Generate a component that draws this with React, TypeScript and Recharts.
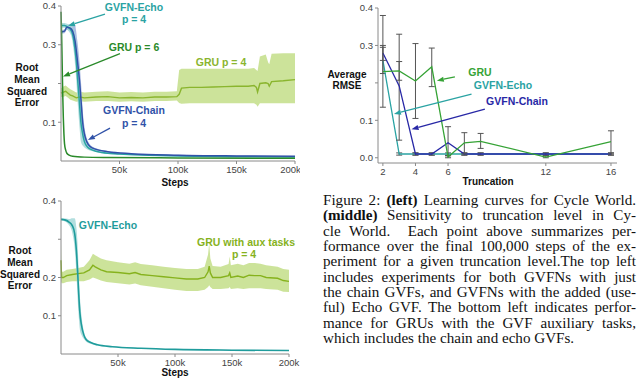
import React from "react";
import {
  Area,
  ComposedChart,
  ErrorBar,
  Line,
  ReferenceLine,
  XAxis,
  YAxis
} from "recharts";

// ---- top left: learning curves (steps in thousands) ----
const echoTopK = [0, 3, 6, 9, 11, 13, 14.5, 16, 17, 18.5, 20, 23, 27, 35, 50, 75, 100, 150, 200];
const echoTopRmse = [0.35, 0.35, 0.345, 0.335, 0.31, 0.26, 0.2, 0.14, 0.1, 0.07, 0.05, 0.035, 0.028, 0.022, 0.018, 0.015, 0.013, 0.011, 0.01];
const echoTopSpread = [0.006, 0.006, 0.008, 0.015, 0.03, 0.05, 0.06, 0.06, 0.05, 0.03, 0.015, 0.006, 0.003, 0.002, 0.002, 0.001, 0.001, 0.001, 0.001];

const chainTopK = [0, 3, 5, 8, 10, 12, 14, 16, 17.5, 18.5, 20, 22, 25, 30, 40, 60, 100, 150, 200];
const chainTopRmse = [0.333, 0.335, 0.345, 0.343, 0.335, 0.31, 0.26, 0.2, 0.14, 0.1, 0.07, 0.05, 0.037, 0.03, 0.024, 0.019, 0.015, 0.013, 0.012];
const chainTopSpread = [0.004, 0.005, 0.006, 0.01, 0.02, 0.04, 0.05, 0.05, 0.045, 0.035, 0.02, 0.01, 0.005, 0.003, 0.002, 0.001, 0.001, 0.001, 0.001];

const gru6K = [0, 0.5, 1, 1.5, 2, 2.5, 3, 4, 5, 7, 10, 20, 40, 100, 200];
const gru6Rmse = [0.385, 0.33, 0.25, 0.17, 0.11, 0.07, 0.045, 0.028, 0.02, 0.015, 0.012, 0.01, 0.009, 0.008, 0.007];

const gru4K = [0, 2, 4, 6, 8, 10, 13, 16, 20, 30, 40, 50, 60, 70, 80, 90, 99, 101, 103, 110, 120, 130, 140, 150, 160, 165, 167, 168, 170, 175, 177, 178, 180, 190, 200];
const gru4Rmse = [0.175, 0.178, 0.18, 0.175, 0.17, 0.168, 0.163, 0.165, 0.163, 0.165, 0.166, 0.163, 0.164, 0.163, 0.165, 0.165, 0.166, 0.172, 0.188, 0.19, 0.19, 0.191, 0.192, 0.193, 0.193, 0.195, 0.19, 0.178, 0.2, 0.202, 0.2, 0.193, 0.205, 0.207, 0.21];
const gru4Lo = [0.165, 0.166, 0.168, 0.163, 0.158, 0.156, 0.153, 0.154, 0.153, 0.155, 0.155, 0.153, 0.154, 0.153, 0.155, 0.155, 0.156, 0.15, 0.148, 0.149, 0.149, 0.149, 0.149, 0.149, 0.149, 0.149, 0.145, 0.14, 0.149, 0.149, 0.149, 0.149, 0.149, 0.149, 0.149];
const gru4Hi = [0.188, 0.192, 0.195, 0.19, 0.185, 0.182, 0.177, 0.179, 0.177, 0.179, 0.18, 0.177, 0.178, 0.177, 0.179, 0.179, 0.18, 0.235, 0.238, 0.238, 0.238, 0.238, 0.238, 0.238, 0.238, 0.24, 0.235, 0.232, 0.27, 0.275, 0.255, 0.25, 0.277, 0.278, 0.278];

// ---- bottom left: GRU with aux tasks ----
const echoBotK = [0, 4, 7, 10, 12, 13.5, 14.5, 15.5, 16.5, 18, 20, 22, 26, 32, 45, 70, 100, 150, 200];
const echoBotRmse = [0.352, 0.35, 0.345, 0.335, 0.315, 0.27, 0.22, 0.16, 0.11, 0.075, 0.05, 0.038, 0.03, 0.024, 0.019, 0.015, 0.012, 0.01, 0.009];
const echoBotSpread = [0.003, 0.004, 0.008, 0.02, 0.04, 0.06, 0.07, 0.06, 0.045, 0.025, 0.01, 0.005, 0.003, 0.002, 0.001, 0.001, 0.001, 0.001, 0.001];

const auxK = [0, 0.5, 2, 5, 10, 15, 20, 25, 28, 30, 35, 40, 50, 60, 65, 70, 80, 90, 100, 110, 120, 126, 129, 130, 131, 133, 140, 147, 148, 149, 155, 160, 165, 170, 175, 180, 190, 195, 200];
const auxRmse = [0.245, 0.2, 0.2, 0.205, 0.208, 0.21, 0.212, 0.22, 0.232, 0.228, 0.22, 0.215, 0.213, 0.21, 0.213, 0.208, 0.205, 0.202, 0.199, 0.196, 0.196, 0.2, 0.215, 0.23, 0.212, 0.2, 0.2, 0.205, 0.212, 0.2, 0.204, 0.2, 0.206, 0.205, 0.205, 0.2, 0.198, 0.192, 0.19];
const auxLo = [0.19, 0.185, 0.185, 0.188, 0.19, 0.19, 0.19, 0.195, 0.2, 0.198, 0.192, 0.188, 0.185, 0.182, 0.184, 0.18, 0.176, 0.172, 0.168, 0.165, 0.165, 0.168, 0.175, 0.18, 0.175, 0.17, 0.17, 0.172, 0.175, 0.17, 0.172, 0.17, 0.172, 0.172, 0.172, 0.17, 0.168, 0.163, 0.162];
const auxHi = [0.29, 0.215, 0.215, 0.22, 0.222, 0.225, 0.228, 0.245, 0.262, 0.258, 0.25, 0.245, 0.24, 0.236, 0.24, 0.235, 0.232, 0.228, 0.225, 0.222, 0.222, 0.228, 0.26, 0.29, 0.25, 0.23, 0.228, 0.235, 0.255, 0.232, 0.236, 0.232, 0.238, 0.238, 0.236, 0.232, 0.228, 0.222, 0.22];

// ---- middle: sensitivity to truncation ----
const truncation = [2, 3, 4, 5, 6, 7, 8, 12, 16];
const gruAvg = [0.23, 0.232, 0.205, 0.243, 0.002, 0.04, 0.044, 0.002, 0.043];
const gruErrLo = [0.095, 0.025, 0.1, 0.053, 0.002, 0.03, 0.019, 0.002, 0.033];
const gruErrHi = [0.15, 0.025, 0.1, 0.05, 0.004, 0.027, 0.021, 0.004, 0.029];
const chainAvg = [0.28, 0.192, 0.01, 0.01, 0.04, 0.01, 0.01, 0.01, 0.01];
const chainErrLo = [0.02, 0.145, 0.003, 0.003, 0.035, 0.003, 0.003, 0.003, 0.003];
const chainErrHi = [0.02, 0.138, 0.003, 0.003, 0.043, 0.003, 0.003, 0.003, 0.003];
const echoAvg = [0.26, 0.01, 0.01, 0.01, 0.01, 0.01, 0.01, 0.01, 0.01];
const echoErr = [0.035, 0.003, 0.003, 0.003, 0.003, 0.003, 0.003, 0.003, 0.003];

const stepTicks = [50, 100, 150, 200];
const rmseTicks = [0.1, 0.2, 0.3, 0.4];
const truncTicks = [2, 4, 6, 12, 16];
const avgTicks = [0, 0.1, 0.2, 0.3, 0.4];

const captionLines = [
  ["Figure 2: ", "(left)", " Learning curves for Cycle World."],
  ["", "(middle)", " Sensitivity to truncation level in Cy-"],
  ["cle World.\u00a0 Each point above summarizes per-"],
  ["formance over the final 100,000 steps of the ex-"],
  ["periment for a given truncation level.The top left"],
  ["includes experiments for both GVFNs with just"],
  ["the chain GVFs, and GVFNs with the added (use-"],
  ["ful) Echo GVF. The bottom left indicates perfor-"],
  ["mance for GRUs with the GVF auxiliary tasks,"],
  ["which includes the chain and echo GVFs."]
];

const TEAL = "#2aa3a3";
const TEAL_BAND = "#9fd6d6";
const BLUE = "#3052a8";
const BLUE_BAND = "#98aadb";
const DARK_GREEN = "#2a8a2a";
const LIME = "#8ab52e";
const LIME_BAND = "#c6e08f";
const AXIS = "#8a8a8a";
const TICK = { fill: "#444", fontSize: 9.5 };

const series = (k: number[], y: number[], spread?: number[]) =>
  k.map((s, i) => ({ s, y: y[i], band: spread ? [y[i] - spread[i], y[i] + spread[i]] : undefined }));

const bandSeries = (k: number[], y: number[], lo: number[], hi: number[]) =>
  k.map((s, i) => ({ s, y: y[i], band: [lo[i], hi[i]] }));

const echoTop = series(echoTopK, echoTopRmse, echoTopSpread);
const chainTop = series(chainTopK, chainTopRmse, chainTopSpread);
const gru6 = series(gru6K, gru6Rmse);
const gru4 = bandSeries(gru4K, gru4Rmse, gru4Lo, gru4Hi);
const echoBot = series(echoBotK, echoBotRmse, echoBotSpread);
const aux = bandSeries(auxK, auxRmse, auxLo, auxHi);

const truncData = truncation.map((t, i) => ({
  t,
  gru: gruAvg[i],
  gruErr: [gruErrLo[i], gruErrHi[i]],
  chain: chainAvg[i],
  chainErr: [chainErrLo[i], chainErrHi[i]],
  echo: echoAvg[i],
  echoErr: echoErr[i]
}));

function arrow(color: string) {
  return (p: any) => {
    const { x1, y1, x2, y2 } = p;
    const a = Math.atan2(y2 - y1, x2 - x1);
    const len = 7;
    const w = 2.6;
    const bx = x2 - len * Math.cos(a);
    const by = y2 - len * Math.sin(a);
    const pts = [
      `${x2},${y2}`,
      `${bx + w * Math.sin(a)},${by - w * Math.cos(a)}`,
      `${bx - w * Math.sin(a)},${by + w * Math.cos(a)}`
    ].join(" ");
    return (
      <g>
        <line x1={x1} y1={y1} x2={bx} y2={by} stroke={color} strokeWidth={1.3} />
        <polygon points={pts} fill={color} />
      </g>
    );
  };
}

function Note({ x, y, color, size = 10.5, children }: any) {
  return (
    <div
      style={{
        position: "absolute",
        left: x,
        top: y,
        transform: "translate(-50%, -50%)",
        color,
        fontSize: size,
        fontWeight: "bold",
        whiteSpace: "nowrap",
        lineHeight: 1,
        textAlign: "center"
      }}
    >
      {children}
    </div>
  );
}

function StackLabel({ x, y, lines, gap = 11.8 }: any) {
  return (
    <>
      {lines.map((l: string, i: number) => (
        <Note key={l} x={x} y={y + i * gap} color="#111" size={10}>
          {l}
        </Note>
      ))}
    </>
  );
}

const hide = (skip: number) => (v: number) => (v === skip ? "" : v.toFixed(1));

export default function App() {
  return (
    <div
      style={{
        position: "absolute",
        left: 0,
        top: 0,
        width: 640,
        height: 380,
        background: "#fff",
        overflow: "hidden",
        fontFamily: '"Liberation Sans", Arial, sans-serif'
      }}
    >
      {/* top left */}
      <div style={{ position: "absolute", left: 0, top: 0 }}>
        <ComposedChart width={300} height={190} margin={{ top: 6, right: 5, bottom: 9, left: 31 }}>
          <XAxis
            dataKey="s"
            type="number"
            domain={[0, 200]}
            ticks={stepTicks}
            tickFormatter={(v) => `${v}k`}
            height={20}
            stroke={AXIS}
            tickSize={3}
            tick={TICK}
            allowDuplicatedCategory={false}
          />
          <YAxis
            type="number"
            domain={[0, 0.4]}
            ticks={rmseTicks}
            tickFormatter={hide(0.2)}
            width={30}
            stroke={AXIS}
            tickSize={3}
            tick={TICK}
          />
          <Area data={gru4} dataKey="band" type="linear" stroke="none" fill={LIME_BAND} fillOpacity={0.9} isAnimationActive={false} />
          <Line data={gru4} dataKey="y" type="linear" stroke={LIME} strokeWidth={1.4} dot={false} isAnimationActive={false} />
          <Area data={chainTop} dataKey="band" type="monotone" stroke="none" fill={BLUE_BAND} fillOpacity={0.8} isAnimationActive={false} />
          <Area data={echoTop} dataKey="band" type="monotone" stroke="none" fill={TEAL_BAND} fillOpacity={0.8} isAnimationActive={false} />
          <Line data={echoTop} dataKey="y" type="monotone" stroke={TEAL} strokeWidth={1.5} dot={false} isAnimationActive={false} />
          <Line data={chainTop} dataKey="y" type="monotone" stroke={BLUE} strokeWidth={1.5} dot={false} isAnimationActive={false} />
          <Line data={gru6} dataKey="y" type="monotone" stroke={DARK_GREEN} strokeWidth={1.5} dot={false} isAnimationActive={false} />
          <ReferenceLine ifOverflow="visible" segment={[{ x: 37.6, y: 0.379 }, { x: 6, y: 0.349 }]} shape={arrow(TEAL)} />
          <ReferenceLine ifOverflow="visible" segment={[{ x: 50.4, y: 0.277 }, { x: 1.7, y: 0.218 }]} shape={arrow(DARK_GREEN)} />
          <ReferenceLine ifOverflow="visible" segment={[{ x: 41.9, y: 0.085 }, { x: 23, y: 0.054 }]} shape={arrow(BLUE)} />
        </ComposedChart>
      </div>
      <Note x={134} y={7} color={TEAL}>GVFN-Echo</Note>
      <Note x={134} y={19} color={TEAL}>p = 4</Note>
      <Note x={134} y={47} color={DARK_GREEN}>GRU p = 6</Note>
      <Note x={221} y={62} color={LIME}>GRU p = 4</Note>
      <Note x={134} y={110} color={BLUE}>GVFN-Chain</Note>
      <Note x={134} y={123} color={BLUE}>p = 4</Note>
      <StackLabel x={27} y={68} lines={["Root", "Mean", "Squared", "Error"]} />
      <Note x={175} y={183} color="#111" size={10}>Steps</Note>

      {/* middle */}
      <div style={{ position: "absolute", left: 320, top: 0 }}>
        <ComposedChart width={320} height={190} data={truncData} margin={{ top: 8, right: 23, bottom: 10, left: 30 }}>
          <XAxis
            dataKey="t"
            type="number"
            domain={[1.7, 16.37]}
            ticks={truncTicks}
            height={17}
            stroke={AXIS}
            tickSize={3}
            tick={TICK}
          />
          <YAxis
            type="number"
            domain={[-0.014, 0.4]}
            ticks={avgTicks}
            tickFormatter={hide(0.2)}
            width={28}
            stroke={AXIS}
            tickSize={3}
            tick={TICK}
            allowDataOverflow
          />
          <Line dataKey="echo" type="linear" stroke={TEAL} strokeWidth={1.3} dot={false} isAnimationActive={false}>
            <ErrorBar dataKey="echoErr" width={3} stroke="#555" strokeWidth={1} />
          </Line>
          <Line dataKey="chain" type="linear" stroke="#2828a6" strokeWidth={1.3} dot={false} isAnimationActive={false}>
            <ErrorBar dataKey="chainErr" width={3} stroke="#555" strokeWidth={1} />
          </Line>
          <Line dataKey="gru" type="linear" stroke="#36a336" strokeWidth={1.3} dot={false} isAnimationActive={false}>
            <ErrorBar dataKey="gruErr" width={3} stroke="#555" strokeWidth={1} />
          </Line>
          <ReferenceLine ifOverflow="visible" segment={[{ x: 6.42, y: 0.216 }, { x: 5.31, y: 0.206 }]} shape={arrow("#36a336")} />
          <ReferenceLine ifOverflow="visible" segment={[{ x: 7.44, y: 0.17 }, { x: 2.68, y: 0.117 }]} shape={arrow(TEAL)} />
          <ReferenceLine ifOverflow="visible" segment={[{ x: 8.26, y: 0.13 }, { x: 3.76, y: 0.076 }]} shape={arrow("#2828a6")} />
        </ComposedChart>
      </div>
      <Note x={480} y={72} color="#36a336">GRU</Note>
      <Note x={503} y={85} color={TEAL}>GVFN-Echo</Note>
      <Note x={517} y={101} color="#2828a6">GVFN-Chain</Note>
      <StackLabel x={347} y={75} lines={["Average", "RMSE"]} gap={11} />
      <Note x={488} y={182} color="#111" size={10}>Truncation</Note>

      {/* bottom left */}
      <div style={{ position: "absolute", left: 0, top: 190 }}>
        <ComposedChart width={300} height={190} margin={{ top: 11, right: 11, bottom: 8, left: 31 }}>
          <XAxis
            dataKey="s"
            type="number"
            domain={[0, 200]}
            ticks={stepTicks}
            tickFormatter={(v) => `${v}k`}
            height={18}
            stroke={AXIS}
            tickSize={3}
            tick={TICK}
          />
          <YAxis
            type="number"
            domain={[0, 0.4]}
            ticks={rmseTicks}
            tickFormatter={hide(0.3)}
            width={30}
            stroke={AXIS}
            tickSize={3}
            tick={TICK}
          />
          <Area data={aux} dataKey="band" type="linear" stroke="none" fill={LIME_BAND} fillOpacity={0.9} isAnimationActive={false} />
          <Line data={aux} dataKey="y" type="linear" stroke="#86b21d" strokeWidth={1.4} dot={false} isAnimationActive={false} />
          <Area data={echoBot} dataKey="band" type="monotone" stroke="none" fill={TEAL_BAND} fillOpacity={0.8} isAnimationActive={false} />
          <Line data={echoBot} dataKey="y" type="monotone" stroke="#1f9c9c" strokeWidth={1.6} dot={false} isAnimationActive={false} />
        </ComposedChart>
      </div>
      <Note x={108} y={225} color="#1f9c9c">GVFN-Echo</Note>
      <Note x={246} y={242} color="#86b21d">GRU with aux tasks</Note>
      <Note x={244} y={254} color="#86b21d">p = 4</Note>
      <StackLabel x={20} y={251} lines={["Root", "Mean", "Squared", "Error"]} />
      <Note x={175} y={373} color="#111" size={10}>Steps</Note>

      {/* caption */}
      <div
        style={{
          position: "absolute",
          left: 323,
          top: 193,
          width: 313,
          fontFamily: '"Liberation Serif", "Times New Roman", serif',
          fontSize: 15.1,
          lineHeight: "15.35px",
          color: "#111"
        }}
      >
        {captionLines.map((parts, i) => (
          <div
            key={i}
            style={{
              textAlign: "justify",
              textAlignLast: i === captionLines.length - 1 ? "left" : "justify",
              whiteSpace: "nowrap",
              height: 15.35
            }}
          >
            {parts.length === 3 ? (
              <>
                {parts[0]}
                <b>{parts[1]}</b>
                {parts[2]}
              </>
            ) : (
              parts[0]
            )}
          </div>
        ))}
      </div>
    </div>
  );
}
